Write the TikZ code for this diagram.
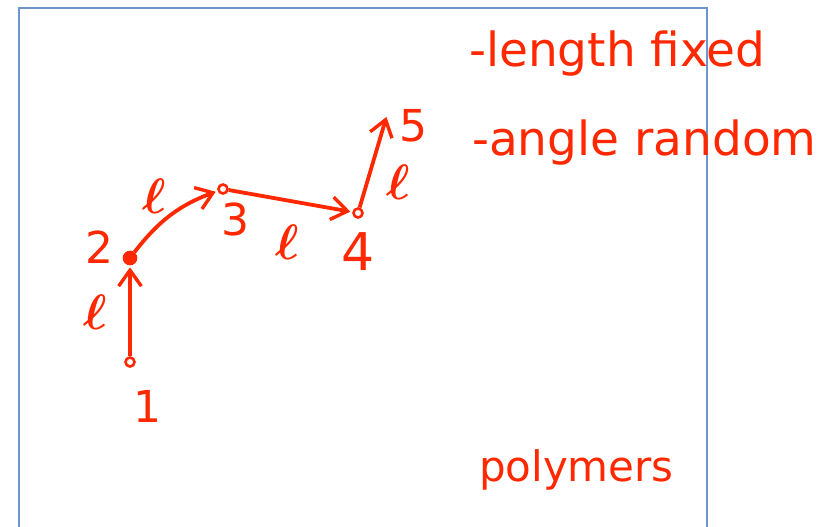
\documentclass[tikz,border=0pt]{standalone}
\usepackage{fontspec}
\setmainfont{DejaVu Sans}
\usetikzlibrary{arrows.meta}
\definecolor{inkred}{RGB}{255,40,0}
\definecolor{pageblue}{RGB}{110,150,205}
\tikzset{
    % Monomer sites
    site/.style={
        circle,
        draw=inkred,
        fill=white,
        line width=1.3pt,
        inner sep=0pt,
        minimum size=4.5pt
    },
    fullsite/.style={
        site,
        fill=inkred,
        minimum size=6pt
    },
    % Bonds
    bond/.style={
        -{Straight Barb[length=2.8mm,width=4mm,line width=1.7pt]},
        line width=1.9pt,
        inkred,
        shorten >=1pt
    },
    % Site numbers and bond lengths
    sitenum/.style={
        inkred,
        font=\fontsize{22}{24}\selectfont
    },
    bondlen/.style={
        inkred,
        font=\fontsize{27}{28}\selectfont\boldmath
    },
    % Notes
    note/.style={
        inkred,
        anchor=base west,
        font=\fontsize{23.5}{26}\selectfont
    }
}

\begin{document}
\begin{tikzpicture}[x=0.5pt,y=-0.5pt]

\useasboundingbox (0,0) rectangle (819,526);

% === PAGE OUTLINE ===
\draw[pageblue, line width=1pt] (19,540) -- (19,8) -- (707,8) -- (707,540);

% === CHAIN ===
\node[site] (site1) at (130,362) {};
\node[fullsite] (site2) at (130,258) {};
\node[site] (site3) at (223,189) {};
\node[site] (site4) at (358,213) {};
\coordinate (site5) at (387,115);

\draw[bond] (site1) -- (site2);
\draw[bond] (site2) to[bend left=16] (site3);
\draw[bond] (site3) -- (site4);
\draw[bond] (site4) -- (site5);

% site numbers
\node[sitenum] (num1) at (147,406) {1};
\node[sitenum] (num2) at (99,247) {2};
\node[sitenum] (num3) at (235,219) {3};
\node[sitenum, font=\fontsize{26}{28}\selectfont] (num4) at (358,252) {4};
\node[sitenum] (num5) at (413,126) {5};

% bond lengths
\node[bondlen] (len12) at (95,312) {$\ell$};
\node[bondlen] (len23) at (154,196) {$\ell$};
\node[bondlen] (len34) at (287,242) {$\ell$};
\node[bondlen] (len45) at (398,182) {$\ell$};

% === NOTES ===
\node[note] (fixed) at (462,66) {-length fixed};
\node[note] (random) at (465,155) {-angle random};
\node[note, font=\fontsize{21}{24}\selectfont] (poly) at (472,481) {polymers};

\end{tikzpicture}
\end{document}
